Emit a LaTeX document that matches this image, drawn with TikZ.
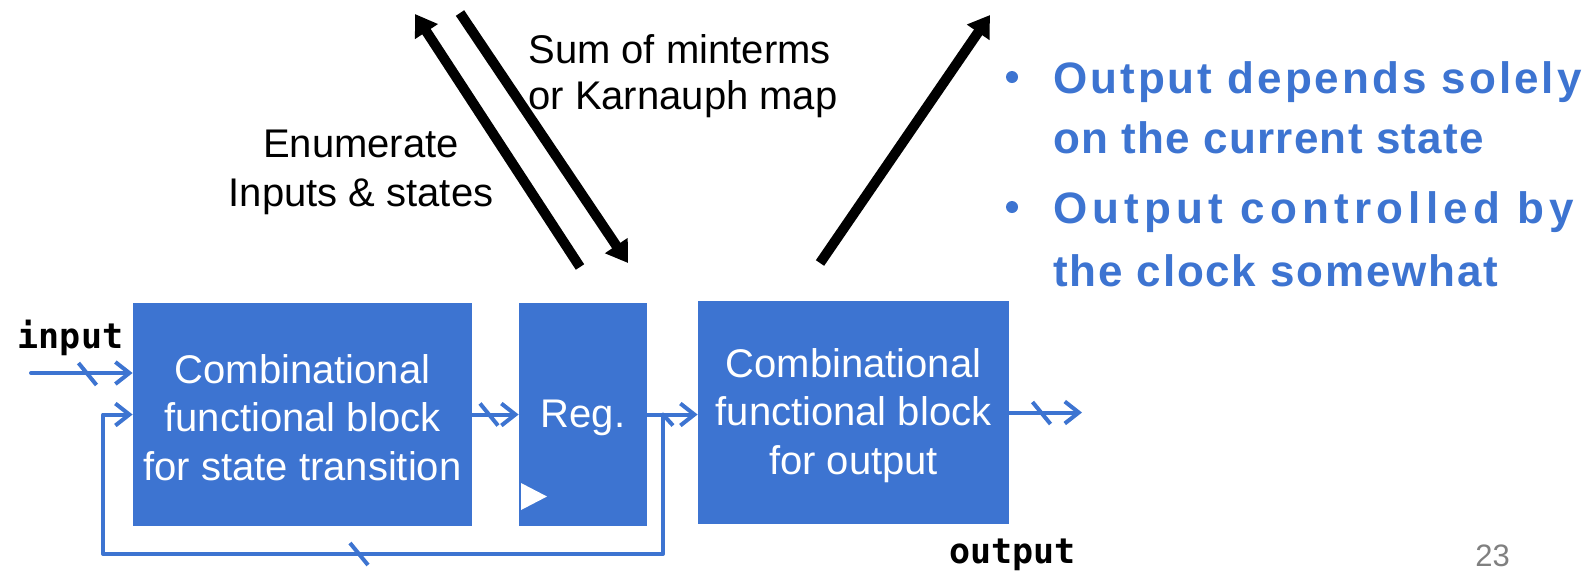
\documentclass[tikz,border=0pt]{standalone}
\usepackage{fontspec}
\setmainfont{Liberation Sans}
\newfontfamily\codefont{DejaVu Sans Mono}
\newfontfamily\bulletA[LetterSpace=6.8]{Liberation Sans}
\newfontfamily\bulletB[LetterSpace=2.8]{Liberation Sans}
\newfontfamily\bulletC[LetterSpace=11.8]{Liberation Sans}
\newfontfamily\bulletD[LetterSpace=4]{Liberation Sans}
\usetikzlibrary{arrows.meta}
\definecolor{slideblue}{RGB}{61,116,209}
\definecolor{pagegray}{RGB}{128,128,128}

\begin{document}
\begin{tikzpicture}[x=0.5pt,y=-0.5pt,
  block/.style={fill=slideblue, draw=none, inner sep=0pt},
  blocktext/.style={inner sep=0pt, text=white, align=center,
    font=\fontsize{20}{24.2}\selectfont, yshift=-1.5pt},
  wire/.style={slideblue, line width=2pt, line cap=round, line join=round},
  wirearrow/.style={wire, -{Straight Barb[length=7pt,width=11pt]}},
  busmark/.style={slideblue, line width=2pt},
  bigarrow/.style={black, line width=5pt, -{Triangle[length=10.5pt,width=13pt]}},
  note/.style={inner sep=0pt, font=\fontsize{20}{24}\selectfont},
  code/.style={inner sep=0pt, anchor=base, font=\codefont\bfseries\fontsize{17.5}{20}\selectfont},
  bullettext/.style={inner sep=0pt, anchor=base west, text=slideblue},
]
\useasboundingbox (0,0) rectangle (1591,570);

% functional blocks
\node[block, minimum width=169.5pt, minimum height=111.5pt] (cs) at (302.5,414.5) {};
\node[block, minimum width=64pt, minimum height=111.5pt] (reg) at (583,414.5) {};
\node[block, minimum width=155.5pt, minimum height=111.5pt] (co) at (853.5,412.5) {};
\node[blocktext] (cstext) at (cs.center) {Combinational\\functional block\\for state transition};
\node[blocktext] (regtext) at (reg.center) {Reg.};
\node[blocktext] (cotext) at (co.center) {Combinational\\functional block\\for output};

% clock input of the register
\fill[white] (521,483) -- (521,510) -- (547,496.5) -- cycle;

% input bus
\coordinate (inStart) at (31,373);
\draw[wirearrow] (inStart) -- (inStart -| cs.west);
\coordinate (inMark) at (87.5,374);
\draw[busmark] (inMark) ++(-9,-11) -- ++(18,22);

% next state into the register
\draw[wirearrow] (cs.east) -- (reg.west);
\coordinate (nsMark) at (489,414.5);
\draw[busmark] (nsMark) ++(-9,-11) -- ++(18,22);

% current state into the output logic
\draw[wirearrow] (reg.east) -- (reg.east -| co.west);
\coordinate (tap) at (663,414.5);
\draw[busmark] (tap) -- ++(10,11);

% state feedback loop
\coordinate (fbR) at (663,554);
\coordinate (fbL) at (103,554);
\draw[wirearrow] (tap) -- (fbR) -- (fbL) -- (fbL |- cs.west) -- (cs.west);
\coordinate (fbMark) at (359,554);
\draw[busmark] (fbMark) ++(-9,-11) -- ++(18,22);

% output bus
\coordinate (outEnd) at (1082,412.5);
\draw[wirearrow] (co.east) -- (outEnd);
\coordinate (outMark) at (1041.5,413);
\draw[busmark] (outMark) ++(-9,-11) -- ++(18,22);

% design flow arrows
\coordinate (a1s) at (580,267);
\coordinate (a1e) at (415,14);
\coordinate (a2s) at (460,13);
\coordinate (a2e) at (628,263);
\coordinate (a3s) at (820,263);
\coordinate (a3e) at (990,15);
\draw[bigarrow] (a1s) -- (a1e);
\draw[bigarrow] (a2s) -- (a2e);
\draw[bigarrow] (a3s) -- (a3e);

% annotations
\node[note, align=center, font=\fontsize{20}{24.5}\selectfont] (enum) at (361,172) {Enumerate\\Inputs \& states};
\node[note, align=left, anchor=west, font=\fontsize{20}{23}\selectfont] (sum) at (528,76.5)
  {Sum of minterms\\or Karnauph map};
\node[code] (inlbl) at (70.5,348) {input};
\node[code] (outlbl) at (1012.5,563) {output};
\node[inner sep=0pt, anchor=base, text=pagegray, font=\fontsize{15.5}{18}\selectfont] (pg) at (1492.5,566) {23};

% bullet list
\fill[slideblue] (1012,77) circle (6);
\fill[slideblue] (1012,207) circle (6);
\node[bullettext, font=\bulletA\bfseries\fontsize{22}{26}\selectfont] (b1a) at (1053,93) {Output depends solely};
\node[bullettext, font=\bulletB\bfseries\fontsize{22}{26}\selectfont] (b1b) at (1053,153) {on the current state};
\node[bullettext, font=\bulletC\bfseries\fontsize{22}{26}\selectfont] (b2a) at (1053,223) {Output controlled by};
\node[bullettext, font=\bulletD\bfseries\fontsize{22}{26}\selectfont] (b2b) at (1053,286) {the clock somewhat};
\end{tikzpicture}
\end{document}
